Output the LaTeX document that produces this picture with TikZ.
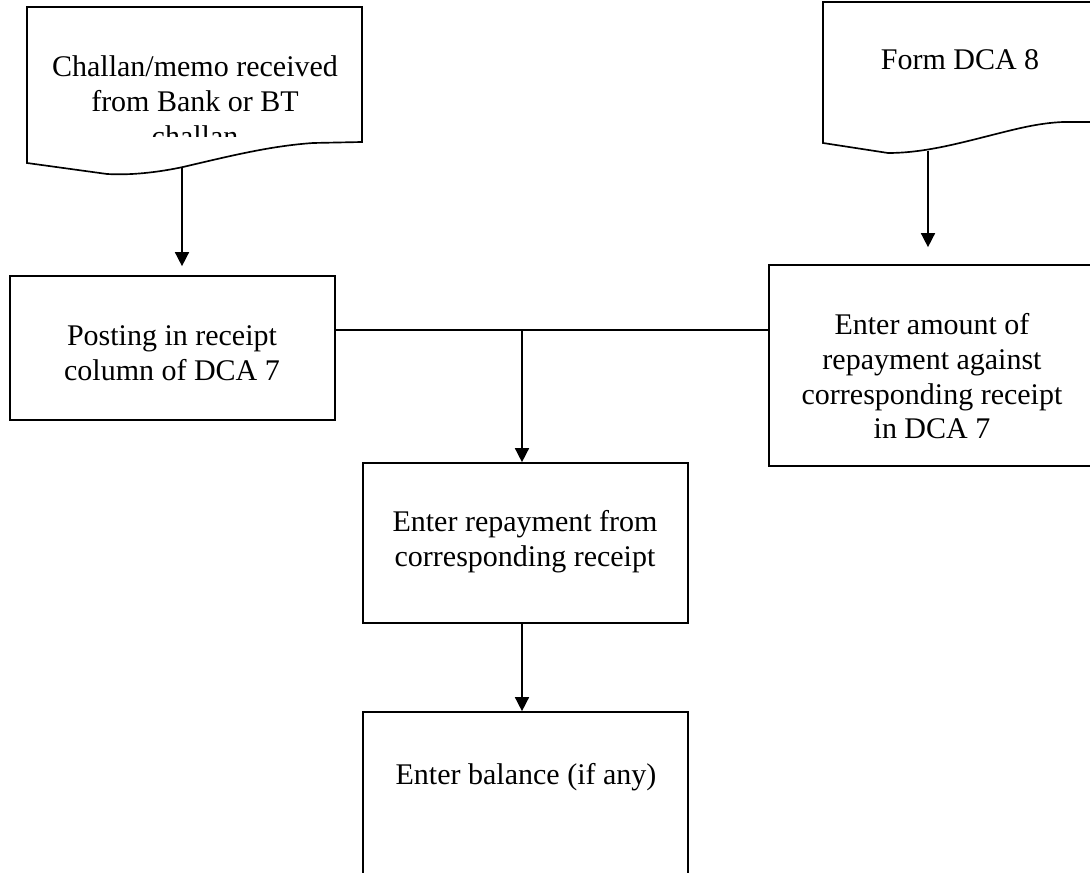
\documentclass[tikz,border=0pt]{standalone}
\usepackage{fontspec}
\setmainfont{Liberation Serif}
\usetikzlibrary{arrows.meta}
\begin{document}
\begin{tikzpicture}[x=0.75pt,y=-0.75pt,
  outline/.style={draw=black,line width=1.25pt},
  procbox/.style={outline,rectangle,inner sep=0pt},
  boxtext/.style={align=center,inner sep=0pt,font=\fontsize{22.5}{26}\selectfont},
  link/.style={line width=1.15pt},
  arr/.style={link,-{Triangle[length=10.5pt,width=10.5pt]}}]
\useasboundingbox (0,0) rectangle (1090,873);
\clip (0,0) rectangle (1090,873);

% source documents
\draw[outline] (27,163) -- (27,7) -- (362,7) -- (362,142) -- (313,143)
  .. controls (270,146) and (230,156) .. (183,167)
  .. controls (150,174) and (125,175) .. (107,174) -- cycle;
\begin{scope}
  \clip (27,7) rectangle (362,137);
  \node[boxtext] (challan) at (195,104.7)
    {\strut Challan/memo received\\\strut from Bank or BT\\\strut challan};
\end{scope}
\coordinate (challanfoot) at (182,168);

\draw[outline] (823,143) -- (823,2) -- (1100,2) -- (1100,122) -- (1063,122)
  .. controls (1040,123) and (1020,128) .. (1000,133)
  .. controls (960,143) and (925,153) .. (888,153) -- cycle;
\node[boxtext] (form) at (960,63) {\strut Form DCA 8};
\coordinate (formfoot) at (928,151);

% process boxes
\node[procbox,minimum width=243.75pt,minimum height=108pt] (post) at (172.5,348) {};
\node[boxtext] (posttext) at (172,356.4) {\strut Posting in receipt\\\strut column of DCA 7};

\node[procbox,minimum width=255.75pt,minimum height=150.75pt] (amt) at (939.5,365.5) {};
\node[boxtext] (amttext) at (932,380)
  {\strut Enter amount of\\\strut repayment against\\\strut corresponding receipt\\\strut in DCA 7};

\node[procbox,minimum width=243.75pt,minimum height=120pt] (rep) at (525.5,543) {};
\node[boxtext] (reptext) at (525,542.4) {\strut Enter repayment from\\\strut corresponding receipt};

\node[procbox,minimum width=243.75pt,minimum height=141pt] (bal) at (525.5,806) {};
\node[boxtext] (baltext) at (526,778) {\strut Enter balance (if any)};

% connectors
\draw[arr,shorten >=6.75pt] (challanfoot) -- (challanfoot |- post.north);
\draw[arr,shorten >=12.75pt] (formfoot) -- (formfoot |- amt.north);
\coordinate (join) at (522,330);
\draw[link] (post.east |- join) -- (amt.west |- join);
\draw[arr] (join) -- (join |- rep.north);
\draw[arr] (join |- rep.south) -- (join |- bal.north);
\end{tikzpicture}
\end{document}
